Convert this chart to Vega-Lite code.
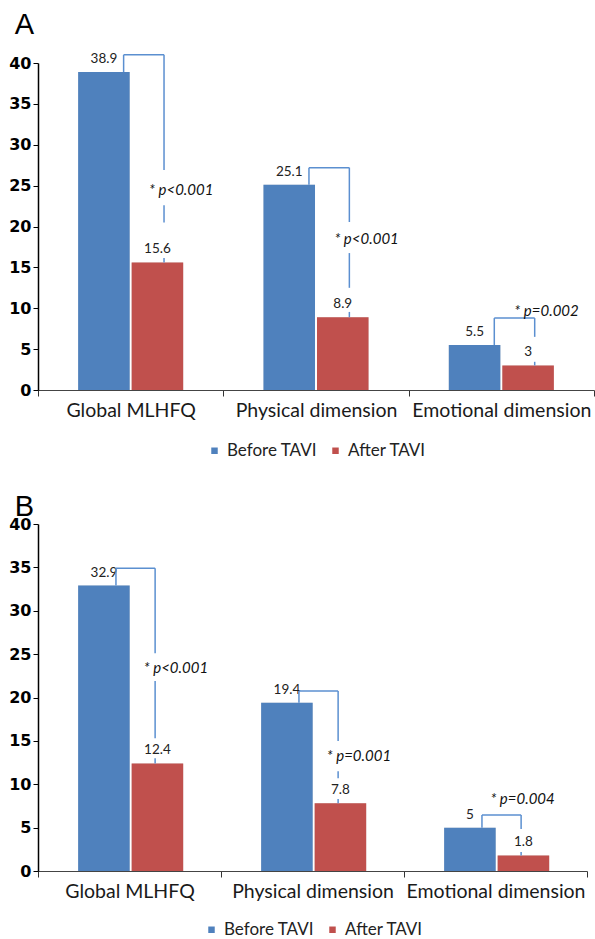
{
  "$schema": "https://vega.github.io/schema/vega-lite/v6.json",
  "padding": {"left": 8, "top": 10, "right": 0, "bottom": 0},
  "spacing": 34,
  "resolve": {"scale": {"color": "independent"}, "legend": {"color": "independent"}},
  "config": {
    "view": {"stroke": null},
    "axisX": {"labelFont": "Lato", "labelFontSize": 19.5, "labelColor": "#1a1a1a", "labelAngle": 0, "labelPadding": 5, "tickBand": "extent", "tickSize": 6, "tickColor": "#333333", "domainColor": "#444444", "domainWidth": 1.2, "grid": false, "zindex": 1},
    "axisY": {"labelFont": "DejaVu Sans", "labelFontWeight": "bold", "labelFontSize": 16, "labelColor": "#000000", "tickColor": "#000000", "tickSize": 5, "labelPadding": 2, "domainColor": "#000000", "domainWidth": 1.5, "grid": false, "zindex": 1},
    "legend": {"orient": "bottom", "direction": "horizontal", "title": null, "labelFont": "Lato", "labelFontSize": 17, "labelColor": "#222222", "symbolType": "square", "symbolSize": 42, "symbolStrokeWidth": 0, "columnPadding": 10, "labelOffset": 4, "layout": {"bottom": {"anchor": "middle"}}},
    "title": {"font": "Liberation Sans", "fontSize": 29, "fontWeight": "normal", "color": "#000000", "anchor": "start", "frame": "bounds"}
  },
  "datasets": {
    "barsA": [
      {"category": "Global MLHFQ", "series": "Before TAVI", "value": 38.9},
      {"category": "Global MLHFQ", "series": "After TAVI", "value": 15.6},
      {"category": "Physical dimension", "series": "Before TAVI", "value": 25.1},
      {"category": "Physical dimension", "series": "After TAVI", "value": 8.9},
      {"category": "Emotional dimension", "series": "Before TAVI", "value": 5.5},
      {"category": "Emotional dimension", "series": "After TAVI", "value": 3}
    ],
    "leftA": [
      {"category": "Global MLHFQ", "y": 38.9, "y2": 41.0},
      {"category": "Physical dimension", "y": 25.1, "y2": 27.2},
      {"category": "Emotional dimension", "y": 5.5, "y2": 8.8}
    ],
    "rightA": [
      {"category": "Global MLHFQ", "y": 41.0, "y2": 26.9},
      {"category": "Global MLHFQ", "y": 22.6, "y2": 20.5},
      {"category": "Global MLHFQ", "y": 16.15, "y2": 15.6},
      {"category": "Physical dimension", "y": 27.2, "y2": 20.55},
      {"category": "Physical dimension", "y": 16.75, "y2": 12.5},
      {"category": "Physical dimension", "y": 9.55, "y2": 8.9},
      {"category": "Emotional dimension", "y": 8.8, "y2": 6.5},
      {"category": "Emotional dimension", "y": 3.45, "y2": 3.0}
    ],
    "topA": [
      {"category": "Global MLHFQ", "y": 41.0},
      {"category": "Physical dimension", "y": 27.2},
      {"category": "Emotional dimension", "y": 8.8}
    ],
    "pA": [
      {"category": "Global MLHFQ", "y": 24.5, "label": "* p<0.001"},
      {"category": "Physical dimension", "y": 18.5, "label": "* p<0.001"},
      {"category": "Emotional dimension", "y": 9.65, "label": "* p=0.002"}
    ],
    "barsB": [
      {"category": "Global MLHFQ", "series": "Before TAVI", "value": 32.9},
      {"category": "Global MLHFQ", "series": "After TAVI", "value": 12.4},
      {"category": "Physical dimension", "series": "Before TAVI", "value": 19.4},
      {"category": "Physical dimension", "series": "After TAVI", "value": 7.8},
      {"category": "Emotional dimension", "series": "Before TAVI", "value": 5},
      {"category": "Emotional dimension", "series": "After TAVI", "value": 1.8}
    ],
    "leftB": [
      {"category": "Global MLHFQ", "y": 32.9, "y2": 34.9},
      {"category": "Physical dimension", "y": 19.4, "y2": 20.75},
      {"category": "Emotional dimension", "y": 5.0, "y2": 6.45}
    ],
    "rightB": [
      {"category": "Global MLHFQ", "y": 34.9, "y2": 25.1},
      {"category": "Global MLHFQ", "y": 21.9, "y2": 15.3},
      {"category": "Global MLHFQ", "y": 13.0, "y2": 12.4},
      {"category": "Physical dimension", "y": 20.75, "y2": 15.0},
      {"category": "Physical dimension", "y": 11.5, "y2": 10.7},
      {"category": "Physical dimension", "y": 8.3, "y2": 7.8},
      {"category": "Emotional dimension", "y": 6.45, "y2": 4.85},
      {"category": "Emotional dimension", "y": 2.2, "y2": 1.8}
    ],
    "topB": [
      {"category": "Global MLHFQ", "y": 34.9},
      {"category": "Physical dimension", "y": 20.75},
      {"category": "Emotional dimension", "y": 6.45}
    ],
    "pB": [
      {"category": "Global MLHFQ", "y": 23.4, "label": "* p<0.001"},
      {"category": "Physical dimension", "y": 13.25, "label": "* p=0.001"},
      {"category": "Emotional dimension", "y": 8.3, "label": "* p=0.004"}
    ]
  },
  "vconcat": [
    {
      "title": {"text": "A", "dx": 6, "offset": 12},
      "width": 556,
      "height": 327,
      "layer": [
        {
          "data": {"name": "barsA"},
          "mark": {"type": "bar", "color": "#d9d9d9", "xOffset": 3},
          "encoding": {
            "x": {"field": "category", "type": "nominal", "title": null, "sort": ["Global MLHFQ", "Physical dimension", "Emotional dimension"], "scale": {"domain": ["Global MLHFQ", "Physical dimension", "Emotional dimension"], "paddingInner": 0, "paddingOuter": 0}},
            "xOffset": {"field": "series", "type": "nominal", "sort": ["Before TAVI", "After TAVI"], "scale": {"domain": ["Before TAVI", "After TAVI"], "paddingInner": 0.037, "paddingOuter": 0.75}},
            "y": {"field": "value", "type": "quantitative", "title": null, "scale": {"domain": [0, 40], "nice": false}, "axis": {"values": [0, 5, 10, 15, 20, 25, 30, 35, 40]}}
          }
        },
        {
          "data": {"name": "barsA"},
          "mark": {"type": "bar"},
          "encoding": {
            "x": {"field": "category", "type": "nominal", "title": null},
            "xOffset": {"field": "series", "type": "nominal"},
            "y": {"field": "value", "type": "quantitative", "title": null},
            "color": {"field": "series", "type": "nominal", "scale": {"domain": ["Before TAVI", "After TAVI"], "range": ["#4f81bd", "#c0504d"]}, "legend": {"title": null, "offset": 22}}
          }
        },
        {
          "data": {"name": "barsA"},
          "mark": {"type": "text", "font": "Lato", "fontSize": 13.5, "color": "#222222", "baseline": "middle", "dy": -13},
          "encoding": {
            "x": {"field": "category", "type": "nominal", "title": null},
            "xOffset": {"field": "series", "type": "nominal"},
            "y": {"field": "value", "type": "quantitative", "title": null},
            "text": {"field": "value", "type": "quantitative"}
          }
        },
        {
          "data": {"name": "leftA"},
          "mark": {"type": "rule", "color": "#5b8fd0", "strokeWidth": 1.5},
          "encoding": {
            "x": {"field": "category", "type": "nominal", "title": null, "bandPosition": 0.462},
            "y": {"field": "y", "type": "quantitative", "title": null},
            "y2": {"field": "y2"}
          }
        },
        {
          "data": {"name": "rightA"},
          "mark": {"type": "rule", "color": "#5b8fd0", "strokeWidth": 1.5},
          "encoding": {
            "x": {"field": "category", "type": "nominal", "title": null, "bandPosition": 0.68},
            "y": {"field": "y", "type": "quantitative", "title": null},
            "y2": {"field": "y2"}
          }
        },
        {
          "data": {"name": "topA"},
          "mark": {"type": "rule", "color": "#5b8fd0", "strokeWidth": 1.5},
          "encoding": {
            "x": {"field": "category", "type": "nominal", "title": null, "bandPosition": 0.462},
            "x2": {"field": "category", "bandPosition": 0.68},
            "y": {"field": "y", "type": "quantitative", "title": null}
          }
        },
        {
          "data": {"name": "pA"},
          "transform": [{"filter": "datum.category !== 'Emotional dimension'"}],
          "mark": {"type": "text", "font": "Lato", "fontSize": 15, "fontStyle": "italic", "color": "#111111", "baseline": "middle"},
          "encoding": {
            "x": {"field": "category", "type": "nominal", "title": null, "bandPosition": 0.773},
            "y": {"field": "y", "type": "quantitative", "title": null},
            "text": {"field": "label"}
          }
        },
        {
          "data": {"name": "pA"},
          "transform": [{"filter": "datum.category === 'Emotional dimension'"}],
          "mark": {"type": "text", "font": "Lato", "fontSize": 15, "fontStyle": "italic", "color": "#111111", "baseline": "middle"},
          "encoding": {
            "x": {"field": "category", "type": "nominal", "title": null, "bandPosition": 0.744},
            "y": {"field": "y", "type": "quantitative", "title": null},
            "text": {"field": "label"}
          }
        }
      ]
    },
    {
      "title": {"text": "B", "dx": 6, "offset": -6},
      "width": 549,
      "height": 347,
      "layer": [
        {
          "data": {"name": "barsB"},
          "mark": {"type": "bar", "color": "#d9d9d9", "xOffset": 3},
          "encoding": {
            "x": {"field": "category", "type": "nominal", "title": null, "sort": ["Global MLHFQ", "Physical dimension", "Emotional dimension"], "scale": {"domain": ["Global MLHFQ", "Physical dimension", "Emotional dimension"], "paddingInner": 0, "paddingOuter": 0}},
            "xOffset": {"field": "series", "type": "nominal", "sort": ["Before TAVI", "After TAVI"], "scale": {"domain": ["Before TAVI", "After TAVI"], "paddingInner": 0.038, "paddingOuter": 0.762}},
            "y": {"field": "value", "type": "quantitative", "title": null, "scale": {"domain": [0, 40], "nice": false}, "axis": {"values": [0, 5, 10, 15, 20, 25, 30, 35, 40]}}
          }
        },
        {
          "data": {"name": "barsB"},
          "mark": {"type": "bar"},
          "encoding": {
            "x": {"field": "category", "type": "nominal", "title": null},
            "xOffset": {"field": "series", "type": "nominal"},
            "y": {"field": "value", "type": "quantitative", "title": null},
            "color": {"field": "series", "type": "nominal", "scale": {"domain": ["Before TAVI", "After TAVI"], "range": ["#4f81bd", "#c0504d"]}, "legend": {"title": null, "offset": 20}}
          }
        },
        {
          "data": {"name": "barsB"},
          "mark": {"type": "text", "font": "Lato", "fontSize": 13.5, "color": "#222222", "baseline": "middle", "dy": -13},
          "encoding": {
            "x": {"field": "category", "type": "nominal", "title": null},
            "xOffset": {"field": "series", "type": "nominal"},
            "y": {"field": "value", "type": "quantitative", "title": null},
            "text": {"field": "value", "type": "quantitative"}
          }
        },
        {
          "data": {"name": "leftB"},
          "mark": {"type": "rule", "color": "#5b8fd0", "strokeWidth": 1.5},
          "encoding": {
            "x": {"field": "category", "type": "nominal", "title": null, "bandPosition": 0.426},
            "y": {"field": "y", "type": "quantitative", "title": null},
            "y2": {"field": "y2"}
          }
        },
        {
          "data": {"name": "rightB"},
          "mark": {"type": "rule", "color": "#5b8fd0", "strokeWidth": 1.5},
          "encoding": {
            "x": {"field": "category", "type": "nominal", "title": null, "bandPosition": 0.64},
            "y": {"field": "y", "type": "quantitative", "title": null},
            "y2": {"field": "y2"}
          }
        },
        {
          "data": {"name": "topB"},
          "mark": {"type": "rule", "color": "#5b8fd0", "strokeWidth": 1.5},
          "encoding": {
            "x": {"field": "category", "type": "nominal", "title": null, "bandPosition": 0.426},
            "x2": {"field": "category", "bandPosition": 0.64},
            "y": {"field": "y", "type": "quantitative", "title": null}
          }
        },
        {
          "data": {"name": "pB"},
          "transform": [{"filter": "datum.category !== 'Emotional dimension'"}],
          "mark": {"type": "text", "font": "Lato", "fontSize": 15, "fontStyle": "italic", "color": "#111111", "baseline": "middle"},
          "encoding": {
            "x": {"field": "category", "type": "nominal", "title": null, "bandPosition": 0.754},
            "y": {"field": "y", "type": "quantitative", "title": null},
            "text": {"field": "label"}
          }
        },
        {
          "data": {"name": "pB"},
          "transform": [{"filter": "datum.category === 'Emotional dimension'"}],
          "mark": {"type": "text", "font": "Lato", "fontSize": 15, "fontStyle": "italic", "color": "#111111", "baseline": "middle"},
          "encoding": {
            "x": {"field": "category", "type": "nominal", "title": null, "bandPosition": 0.648},
            "y": {"field": "y", "type": "quantitative", "title": null},
            "text": {"field": "label"}
          }
        }
      ]
    }
  ]
}
